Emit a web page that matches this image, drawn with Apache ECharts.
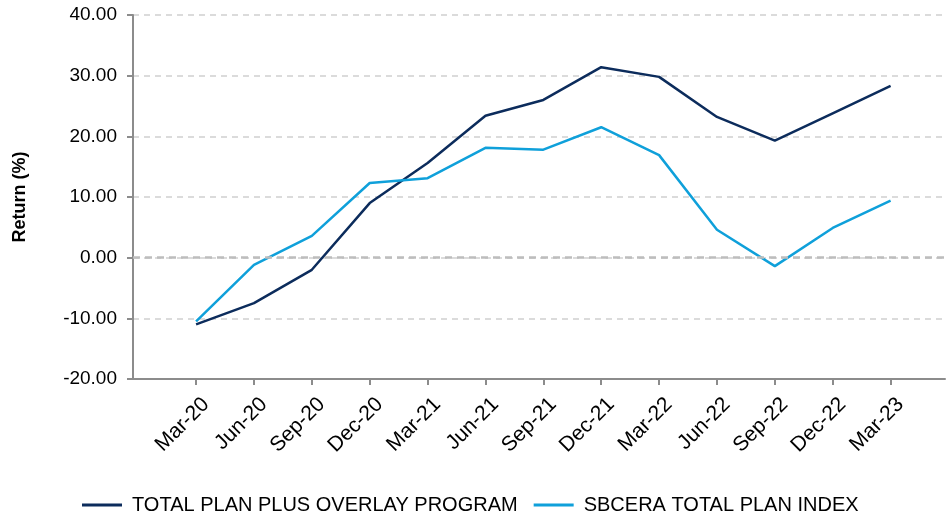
<!DOCTYPE html>
<html lang="en">
<head>
    <meta charset="UTF-8">
    <title>Return</title>
    <script src="https://cdn.jsdelivr.net/npm/echarts@6/dist/echarts.min.js"></script>
</head>
<body style="margin:0;">
<div id="main" style="width: 947px;height:516px;"></div>
<script>
    // quarters on the x axis
    const quarters = ['Mar-20', 'Jun-20', 'Sep-20', 'Dec-20', 'Mar-21', 'Jun-21', 'Sep-21',
        'Dec-21', 'Mar-22', 'Jun-22', 'Sep-22', 'Dec-22', 'Mar-23'];
    // series values (%)
    const overlayProgram = [-11.0, -7.5, -2.0, 9.0, 15.6, 23.4, 26.0, 31.4, 29.8, 23.2, 19.3, 23.8, 28.3];
    const totalPlanIndex = [-10.5, -1.2, 3.6, 12.3, 13.1, 18.1, 17.8, 21.5, 16.9, 4.6, -1.4, 4.9, 9.4];
    // y tick labels
    const yTicks = [-20, -10, 0, 10, 20, 30, 40];

    function pairs(values) {
        return values.map(function (v, i) { return [i, v]; });
    }

    let echart = echarts.init(document.getElementById('main'));
    let tickIdx = quarters.map(function (q, i) { return i; });
    let font = 'Liberation Sans, Arial, sans-serif';

    let option = {
        animation: false,
        grid: {left: 133, right: 2, top: 15, bottom: 137},
        legend: {
            left: 77,
            top: 490,
            itemWidth: 40,
            itemHeight: 3,
            itemGap: 16,
            icon: 'rect',
            textStyle: {fontFamily: font, fontSize: 20, color: '#000', padding: [0, 0, 0, 5]},
            data: ['TOTAL PLAN PLUS OVERLAY PROGRAM', 'SBCERA TOTAL PLAN INDEX']
        },
        xAxis: {
            type: 'value',
            min: -1.09,
            max: 12.94,
            splitLine: {show: false},
            axisLine: {show: true, onZero: false, lineStyle: {color: '#8c8c8c', width: 2}},
            axisTick: {show: true, customValues: tickIdx, length: 6, lineStyle: {color: '#8c8c8c', width: 2}},
            axisLabel: {
                customValues: tickIdx,
                rotate: 45,
                margin: 32,
                padding: [0, -14, 0, 0],
                fontFamily: font,
                fontSize: 21,
                color: '#000',
                formatter: function (v) { return quarters[Math.round(v)]; }
            }
        },
        yAxis: {
            type: 'value',
            min: yTicks[0],
            max: yTicks[yTicks.length - 1],
            interval: 10,
            name: 'Return (%)',
            nameLocation: 'middle',
            nameGap: 104,
            nameTextStyle: {fontFamily: font, fontSize: 18, fontWeight: 'bold', color: '#000'},
            axisLine: {show: true, onZero: false, lineStyle: {color: '#8c8c8c', width: 2}},
            axisTick: {show: true, length: 6, lineStyle: {color: '#8c8c8c', width: 2}},
            axisLabel: {
                margin: 16,
                fontFamily: font,
                fontSize: 19,
                color: '#000',
                formatter: function (v) { return v.toFixed(2); }
            },
            splitLine: {show: true, lineStyle: {color: '#cfcfcf', type: [6, 5], width: 1.5}}
        },
        series: [
            {
                name: 'TOTAL PLAN PLUS OVERLAY PROGRAM',
                type: 'line',
                data: pairs(overlayProgram),
                symbol: 'none',
                itemStyle: {color: '#0c2c5c'},
                lineStyle: {color: '#0c2c5c', width: 2.5},
                markLine: {
                    silent: true,
                    symbol: 'none',
                    label: {show: false},
                    lineStyle: {color: '#bdbdbd', type: [7, 5], width: 2.5},
                    data: [{yAxis: 0}]
                }
            },
            {
                name: 'SBCERA TOTAL PLAN INDEX',
                type: 'line',
                data: pairs(totalPlanIndex),
                symbol: 'none',
                itemStyle: {color: '#0fa0da'},
                lineStyle: {color: '#0fa0da', width: 2.5}
            }
        ]
    };
    echart.setOption(option);
</script>
</body>
</html>
